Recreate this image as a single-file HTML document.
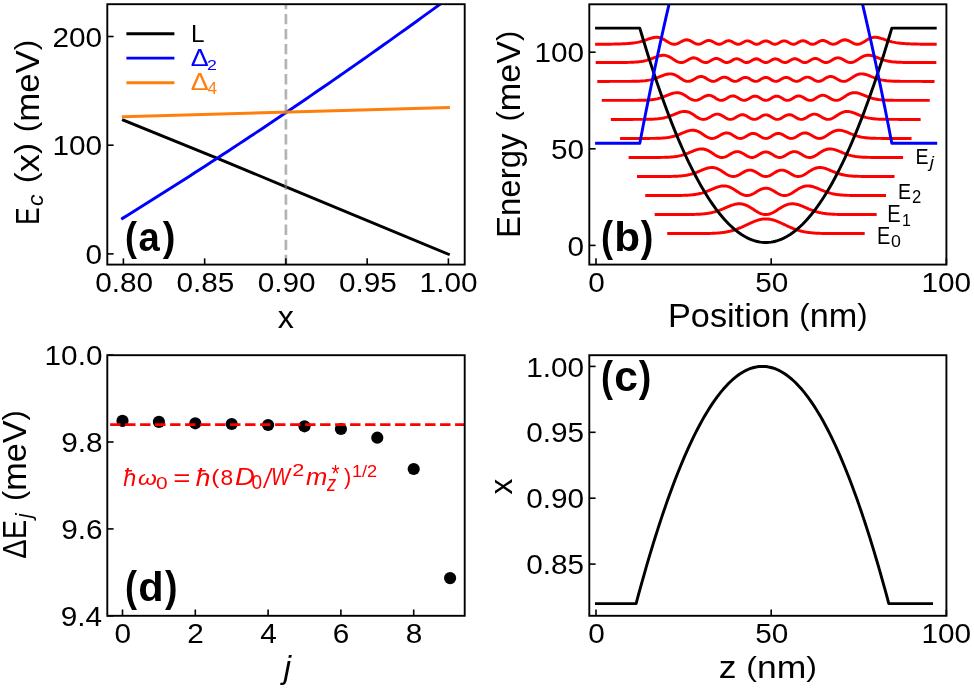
<!DOCTYPE html>
<html><head><meta charset="utf-8"><style>html,body{margin:0;padding:0;background:#fff;width:974px;height:688px;overflow:hidden}</style></head>
<body>
<svg width="974" height="688" viewBox="0 0 974 688" style="display:block;will-change:transform;font-family:'Liberation Sans',sans-serif">
<rect width="974" height="688" fill="#fff"/>
<clipPath id="ca"><rect x="107.3" y="4.2" width="357.4" height="260.4"/></clipPath>
<g clip-path="url(#ca)">
<path d="M123.40 120.20 L216.90 158.10 L286.00 186.80 L448.40 254.20" fill="none" stroke="#000" stroke-width="2.94" stroke-linejoin="round" stroke-linecap="square" />
<path d="M122.50 218.36 L128.05 214.92 L133.60 211.47 L139.15 208.01 L144.70 204.54 L150.25 201.06 L155.81 197.57 L161.36 194.07 L166.91 190.55 L172.46 187.03 L178.01 183.49 L183.56 179.95 L189.11 176.39 L194.66 172.82 L200.21 169.24 L205.76 165.65 L211.31 162.05 L216.86 158.44 L222.42 154.82 L227.97 151.19 L233.52 147.54 L239.07 143.89 L244.62 140.22 L250.17 136.55 L255.72 132.86 L261.27 129.16 L266.82 125.45 L272.37 121.73 L277.92 118.00 L283.47 114.26 L289.03 110.51 L294.58 106.74 L300.13 102.97 L305.68 99.18 L311.23 95.39 L316.78 91.58 L322.33 87.76 L327.88 83.93 L333.43 80.09 L338.98 76.24 L344.53 72.38 L350.08 68.51 L355.64 64.63 L361.19 60.73 L366.74 56.83 L372.29 52.91 L377.84 48.99 L383.39 45.05 L388.94 41.10 L394.49 37.14 L400.04 33.17 L405.59 29.19 L411.14 25.20 L416.69 21.20 L422.25 17.18 L427.80 13.16 L433.35 9.12 L438.90 5.08 L444.45 1.02 L450.00 -3.05" fill="none" stroke="#0000ff" stroke-width="2.94" stroke-linejoin="round" stroke-linecap="square" />
<path d="M123.40 116.70 L448.40 107.60" fill="none" stroke="#ff7f0e" stroke-width="2.94" stroke-linejoin="round" stroke-linecap="square" />
<path d="M285.9 -1.15 V270" stroke="#808080" stroke-opacity="0.6" stroke-width="2.7" stroke-dasharray="10.3 4.75"/>
</g>
<rect x="107.3" y="4.2" width="357.4" height="260.4" fill="none" stroke="#000" stroke-width="1.9"/>
<path d="M123.40 264.60 V258.30" stroke="#000" stroke-width="1.6"/>
<path d="M204.65 264.60 V258.30" stroke="#000" stroke-width="1.6"/>
<path d="M285.90 264.60 V258.30" stroke="#000" stroke-width="1.6"/>
<path d="M367.15 264.60 V258.30" stroke="#000" stroke-width="1.6"/>
<path d="M448.40 264.60 V258.30" stroke="#000" stroke-width="1.6"/>
<path d="M107.30 253.90 H113.60" stroke="#000" stroke-width="1.6"/>
<path d="M107.30 145.20 H113.60" stroke="#000" stroke-width="1.6"/>
<path d="M107.30 36.50 H113.60" stroke="#000" stroke-width="1.6"/>
<path d="M126.4 33.70 H174.4" stroke="#000" stroke-width="2.94"/>
<path d="M126.4 58.10 H174.4" stroke="#0000ff" stroke-width="2.94"/>
<path d="M126.4 82.80 H174.4" stroke="#ff7f0e" stroke-width="2.94"/>
<text transform="translate(191.01 41.9) scale(0.9997 1)" font-size="24.27" font-weight="normal" font-style="normal" fill="#000" stroke="#000" stroke-width="0">L</text>
<text transform="translate(190.7 65.6) scale(1.1046 1)" font-size="24.27" font-weight="normal" font-style="normal" fill="#0000ff" stroke="#0000ff" stroke-width="0">Δ</text>
<text transform="translate(206.91 69.8) scale(1.2053 1)" font-size="14.75" font-weight="normal" font-style="normal" fill="#0000ff" stroke="#0000ff" stroke-width="0">2</text>
<text transform="translate(190.7 90.3) scale(1.1046 1)" font-size="24.27" font-weight="normal" font-style="normal" fill="#ff7f0e" stroke="#ff7f0e" stroke-width="0">Δ</text>
<text transform="translate(207.4 94.4) scale(1.0240 1)" font-size="16.86" font-weight="normal" font-style="normal" fill="#ff7f0e" stroke="#ff7f0e" stroke-width="0">4</text>
<text transform="translate(95.14 291.73) scale(1.0642 1)" font-size="27.97" font-weight="normal" font-style="normal" fill="#000" stroke="#000" stroke-width="0">0.80</text>
<text transform="translate(176.43 291.73) scale(1.0642 1)" font-size="27.97" font-weight="normal" font-style="normal" fill="#000" stroke="#000" stroke-width="0">0.85</text>
<text transform="translate(257.64 291.73) scale(1.0642 1)" font-size="27.97" font-weight="normal" font-style="normal" fill="#000" stroke="#000" stroke-width="0">0.90</text>
<text transform="translate(338.93 291.73) scale(1.0642 1)" font-size="27.97" font-weight="normal" font-style="normal" fill="#000" stroke="#000" stroke-width="0">0.95</text>
<text transform="translate(419.59 291.73) scale(1.0642 1)" font-size="27.97" font-weight="normal" font-style="normal" fill="#000" stroke="#000" stroke-width="0">1.00</text>
<text transform="translate(85.51 264.03) scale(1.0642 1)" font-size="27.97" font-weight="normal" font-style="normal" fill="#000" stroke="#000" stroke-width="0">0</text>
<text transform="translate(52.41 155.33) scale(1.0642 1)" font-size="27.97" font-weight="normal" font-style="normal" fill="#000" stroke="#000" stroke-width="0">100</text>
<text transform="translate(52.41 46.63) scale(1.0642 1)" font-size="27.97" font-weight="normal" font-style="normal" fill="#000" stroke="#000" stroke-width="0">200</text>
<text transform="translate(277.84 327.5) scale(1.0315 1)" font-size="31.23" font-weight="normal" font-style="normal" fill="#000" stroke="#000" stroke-width="0">x</text>
<g transform="translate(38.5 222.8) rotate(-90)">
<text transform="translate(-2.18 0) scale(0.8088 1)" font-size="32.85" font-weight="normal" font-style="normal" fill="#000" stroke="#000" stroke-width="0">E</text>
<text transform="translate(16.85 4.29) scale(1.0678 1)" font-size="21.36" font-weight="normal" font-style="italic" fill="#000" stroke="#000" stroke-width="0">c</text>
<text transform="translate(39.56 0) scale(1.1080 1)" font-size="32.85" font-weight="normal" font-style="normal" fill="#000" stroke="#000" stroke-width="0"><tspan font-size="29.65" dy="-2.07">(</tspan><tspan font-size="32.85" dy="2.07">x</tspan><tspan font-size="29.65" dy="-2.07">)</tspan></text>
<text transform="translate(90.65 0) scale(1.0585 1)" font-size="32.85" font-weight="normal" font-style="normal" fill="#000" stroke="#000" stroke-width="0"><tspan font-size="29.65" dy="-2.07">(</tspan><tspan font-size="32.85" dy="2.07">m</tspan><tspan font-size="32.85" dy="0">e</tspan><tspan font-size="32.85" dy="0">V</tspan><tspan font-size="29.65" dy="-2.07">)</tspan></text>
</g>
<text transform="translate(125 251.02) scale(0.8842 1)" font-size="40.87" font-weight="bold" font-style="normal" fill="#000" stroke="#000" stroke-width="0">(</text>
<text transform="translate(138.38 251) scale(0.9357 1)" font-size="40.89" font-weight="bold" font-style="normal" fill="#000" stroke="#000" stroke-width="0">a</text>
<text transform="translate(162.86 251.02) scale(0.9275 1)" font-size="40.87" font-weight="bold" font-style="normal" fill="#000" stroke="#000" stroke-width="0">)</text>
<clipPath id="cb"><rect x="589.3" y="4.3" width="357.1" height="260.3"/></clipPath>
<g clip-path="url(#cb)">
<path d="M668.68 233.58 L669.37 233.58 L670.16 233.58 L670.85 233.58 L671.64 233.58 L672.33 233.58 L673.12 233.58 L673.92 233.58 L674.61 233.58 L675.40 233.58 L676.09 233.58 L676.88 233.58 L677.68 233.58 L678.36 233.58 L679.16 233.58 L679.85 233.58 L680.64 233.58 L681.44 233.58 L682.12 233.58 L682.92 233.58 L683.60 233.58 L684.40 233.58 L685.20 233.58 L685.88 233.58 L686.68 233.58 L687.36 233.58 L688.16 233.58 L688.96 233.58 L689.64 233.58 L690.44 233.58 L691.12 233.58 L691.92 233.58 L692.72 233.58 L693.40 233.58 L694.20 233.57 L694.88 233.57 L695.68 233.57 L696.48 233.57 L697.16 233.57 L697.96 233.56 L698.64 233.56 L699.44 233.56 L700.12 233.55 L700.92 233.55 L701.71 233.54 L702.40 233.54 L703.20 233.53 L703.88 233.52 L704.68 233.51 L705.47 233.50 L706.16 233.49 L706.95 233.48 L707.64 233.46 L708.44 233.45 L709.23 233.43 L709.92 233.41 L710.71 233.39 L711.40 233.37 L712.19 233.34 L712.99 233.30 L713.67 233.27 L714.47 233.24 L715.16 233.20 L715.95 233.15 L716.75 233.10 L717.43 233.05 L718.23 232.99 L718.91 232.94 L719.71 232.87 L720.51 232.79 L721.19 232.71 L721.99 232.62 L722.67 232.54 L723.47 232.43 L724.27 232.32 L724.95 232.21 L725.75 232.08 L726.43 231.96 L727.23 231.81 L727.91 231.67 L728.71 231.50 L729.51 231.32 L730.19 231.16 L730.99 230.96 L731.67 230.78 L732.47 230.55 L733.27 230.32 L733.95 230.11 L734.75 229.85 L735.43 229.62 L736.23 229.35 L737.03 229.06 L737.71 228.80 L738.51 228.49 L739.19 228.22 L739.99 227.89 L740.78 227.55 L741.47 227.26 L742.26 226.90 L742.95 226.60 L743.75 226.23 L744.54 225.86 L745.23 225.54 L746.02 225.17 L746.71 224.84 L747.50 224.47 L748.30 224.09 L748.99 223.77 L749.78 223.40 L750.47 223.08 L751.26 222.72 L752.06 222.37 L752.74 222.07 L753.54 221.74 L754.22 221.46 L755.02 221.15 L755.71 220.89 L756.50 220.61 L757.30 220.35 L757.98 220.14 L758.78 219.91 L759.46 219.73 L760.26 219.54 L761.06 219.38 L761.74 219.26 L762.54 219.14 L763.22 219.06 L764.02 218.98 L764.82 218.94 L765.50 218.92 L766.30 218.92 L766.98 218.95 L767.78 219.00 L768.58 219.08 L769.26 219.17 L770.06 219.29 L770.74 219.42 L771.54 219.59 L772.34 219.78 L773.02 219.96 L773.82 220.20 L774.50 220.41 L775.30 220.68 L776.09 220.97 L776.78 221.22 L777.58 221.54 L778.26 221.82 L779.06 222.16 L779.85 222.50 L780.54 222.81 L781.33 223.17 L782.02 223.49 L782.81 223.86 L783.50 224.18 L784.30 224.56 L785.09 224.94 L785.78 225.26 L786.57 225.64 L787.26 225.96 L788.05 226.32 L788.85 226.69 L789.54 226.99 L790.33 227.34 L791.02 227.64 L791.81 227.97 L792.61 228.30 L793.29 228.57 L794.09 228.88 L794.77 229.13 L795.57 229.42 L796.37 229.69 L797.05 229.92 L797.85 230.17 L798.53 230.38 L799.33 230.61 L800.13 230.83 L800.81 231.01 L801.61 231.21 L802.29 231.37 L803.09 231.55 L803.89 231.71 L804.57 231.85 L805.37 232.00 L806.05 232.11 L806.85 232.24 L807.65 232.36 L808.33 232.46 L809.13 232.56 L809.81 232.65 L810.61 232.74 L811.29 232.81 L812.09 232.88 L812.89 232.95 L813.57 233.01 L814.37 233.07 L815.05 233.12 L815.85 233.17 L816.64 233.21 L817.33 233.25 L818.13 233.28 L818.81 233.31 L819.61 233.34 L820.40 233.37 L821.09 233.39 L821.88 233.42 L822.57 233.43 L823.36 233.45 L824.16 233.47 L824.85 233.48 L825.64 233.49 L826.33 233.50 L827.12 233.51 L827.92 233.52 L828.60 233.53 L829.40 233.54 L830.09 233.54 L830.88 233.55 L831.68 233.55 L832.36 233.56 L833.16 233.56 L833.84 233.56 L834.64 233.57 L835.44 233.57 L836.12 233.57 L836.92 233.57 L837.60 233.58 L838.40 233.58 L839.08 233.58 L839.88 233.58 L840.68 233.58 L841.36 233.58 L842.16 233.58 L842.84 233.58 L843.64 233.58 L844.44 233.58 L845.12 233.58 L845.92 233.58 L846.60 233.58 L847.40 233.58 L848.20 233.58 L848.88 233.58 L849.68 233.58 L850.36 233.58 L851.16 233.58 L851.95 233.58 L852.64 233.58 L853.44 233.58 L854.12 233.58 L854.92 233.58 L855.71 233.58 L856.40 233.58 L857.19 233.58 L857.88 233.58 L858.68 233.58 L859.47 233.58 L860.16 233.58 L860.95 233.58 L861.64 233.58 L862.43 233.58 L863.23 233.58" fill="none" stroke="#ff0000" stroke-width="2.94" stroke-linejoin="round" stroke-linecap="square" />
<path d="M656.15 214.55 L656.95 214.55 L657.75 214.55 L658.66 214.55 L659.46 214.55 L660.37 214.55 L661.16 214.55 L661.96 214.55 L662.87 214.55 L663.67 214.55 L664.58 214.55 L665.38 214.55 L666.29 214.55 L667.09 214.55 L667.89 214.55 L668.80 214.55 L669.59 214.55 L670.50 214.55 L671.30 214.55 L672.21 214.55 L673.01 214.55 L673.81 214.55 L674.72 214.55 L675.52 214.55 L676.43 214.55 L677.23 214.55 L678.14 214.55 L678.93 214.55 L679.73 214.55 L680.64 214.54 L681.44 214.54 L682.35 214.54 L683.15 214.54 L684.06 214.53 L684.86 214.53 L685.65 214.53 L686.57 214.52 L687.36 214.51 L688.27 214.51 L689.07 214.50 L689.87 214.49 L690.78 214.48 L691.58 214.46 L692.49 214.45 L693.29 214.43 L694.20 214.41 L694.99 214.39 L695.79 214.36 L696.70 214.33 L697.50 214.30 L698.41 214.25 L699.21 214.21 L700.12 214.16 L700.92 214.11 L701.71 214.05 L702.63 213.98 L703.42 213.91 L704.33 213.82 L705.13 213.73 L706.04 213.62 L706.84 213.51 L707.64 213.40 L708.55 213.25 L709.35 213.12 L710.26 212.94 L711.05 212.78 L711.97 212.58 L712.76 212.39 L713.56 212.19 L714.47 211.95 L715.27 211.72 L716.18 211.44 L716.98 211.19 L717.89 210.88 L718.69 210.60 L719.48 210.30 L720.40 209.95 L721.19 209.64 L722.10 209.27 L722.90 208.93 L723.70 208.59 L724.61 208.20 L725.41 207.85 L726.32 207.45 L727.12 207.11 L728.03 206.72 L728.82 206.38 L729.62 206.05 L730.53 205.69 L731.33 205.39 L732.24 205.07 L733.04 204.82 L733.95 204.55 L734.75 204.34 L735.54 204.16 L736.46 203.99 L737.25 203.88 L738.16 203.80 L738.96 203.77 L739.87 203.78 L740.67 203.83 L741.47 203.92 L742.38 204.07 L743.18 204.25 L744.09 204.50 L744.88 204.77 L745.80 205.11 L746.59 205.46 L747.39 205.83 L748.30 206.30 L749.10 206.74 L750.01 207.27 L750.81 207.75 L751.60 208.25 L752.52 208.84 L753.31 209.35 L754.22 209.94 L755.02 210.45 L755.93 211.03 L756.73 211.51 L757.53 211.97 L758.44 212.47 L759.24 212.87 L760.15 213.28 L760.95 213.61 L761.86 213.92 L762.65 214.15 L763.45 214.33 L764.36 214.47 L765.16 214.54 L766.07 214.55 L766.87 214.51 L767.78 214.39 L768.58 214.24 L769.37 214.03 L770.29 213.74 L771.08 213.44 L771.99 213.04 L772.79 212.66 L773.70 212.18 L774.50 211.72 L775.30 211.25 L776.21 210.69 L777.01 210.18 L777.92 209.59 L778.71 209.08 L779.63 208.49 L780.42 207.98 L781.22 207.49 L782.13 206.95 L782.93 206.50 L783.84 206.02 L784.64 205.63 L785.43 205.27 L786.35 204.90 L787.14 204.62 L788.05 204.35 L788.85 204.15 L789.76 203.97 L790.56 203.86 L791.36 203.79 L792.27 203.76 L793.07 203.78 L793.98 203.84 L794.77 203.94 L795.69 204.09 L796.48 204.25 L797.28 204.45 L798.19 204.70 L798.99 204.95 L799.90 205.26 L800.70 205.55 L801.61 205.91 L802.41 206.23 L803.20 206.56 L804.12 206.95 L804.91 207.29 L805.82 207.69 L806.62 208.04 L807.53 208.43 L808.33 208.78 L809.13 209.11 L810.04 209.49 L810.84 209.81 L811.75 210.16 L812.54 210.46 L813.34 210.75 L814.25 211.06 L815.05 211.33 L815.96 211.61 L816.76 211.84 L817.67 212.10 L818.47 212.30 L819.26 212.50 L820.18 212.70 L820.97 212.87 L821.88 213.05 L822.68 213.19 L823.59 213.34 L824.39 213.46 L825.19 213.57 L826.10 213.69 L826.90 213.78 L827.81 213.87 L828.60 213.95 L829.52 214.02 L830.31 214.08 L831.11 214.14 L832.02 214.19 L832.82 214.24 L833.73 214.28 L834.53 214.31 L835.44 214.35 L836.24 214.37 L837.03 214.40 L837.94 214.42 L838.74 214.44 L839.65 214.46 L840.45 214.47 L841.36 214.48 L842.16 214.49 L842.96 214.50 L843.87 214.51 L844.67 214.52 L845.58 214.52 L846.37 214.53 L847.17 214.53 L848.08 214.54 L848.88 214.54 L849.79 214.54 L850.59 214.54 L851.50 214.55 L852.30 214.55 L853.09 214.55 L854.01 214.55 L854.80 214.55 L855.71 214.55 L856.51 214.55 L857.42 214.55 L858.22 214.55 L859.02 214.55 L859.93 214.55 L860.73 214.55 L861.64 214.55 L862.43 214.55 L863.35 214.55 L864.14 214.55 L864.94 214.55 L865.85 214.55 L866.65 214.55 L867.56 214.55 L868.36 214.55 L869.27 214.55 L870.07 214.55 L870.86 214.55 L871.77 214.55 L872.57 214.55 L873.48 214.55 L874.28 214.55 L875.19 214.55" fill="none" stroke="#ff0000" stroke-width="2.94" stroke-linejoin="round" stroke-linecap="square" />
<path d="M646.70 195.52 L647.61 195.52 L648.52 195.52 L649.43 195.52 L650.34 195.52 L651.25 195.52 L652.17 195.52 L653.08 195.52 L653.99 195.52 L654.90 195.52 L655.81 195.52 L656.72 195.52 L657.63 195.52 L658.54 195.52 L659.46 195.52 L660.37 195.52 L661.28 195.52 L662.30 195.52 L663.21 195.52 L664.13 195.52 L665.04 195.52 L665.95 195.52 L666.86 195.52 L667.77 195.52 L668.68 195.52 L669.59 195.52 L670.50 195.51 L671.42 195.51 L672.33 195.51 L673.24 195.50 L674.15 195.50 L675.06 195.49 L675.97 195.49 L677.00 195.48 L677.91 195.47 L678.82 195.46 L679.73 195.45 L680.64 195.43 L681.55 195.41 L682.46 195.39 L683.38 195.37 L684.29 195.34 L685.20 195.30 L686.11 195.27 L687.02 195.22 L687.93 195.17 L688.84 195.12 L689.75 195.05 L690.67 194.98 L691.69 194.88 L692.60 194.79 L693.51 194.68 L694.42 194.56 L695.34 194.43 L696.25 194.29 L697.16 194.13 L698.07 193.95 L698.98 193.76 L699.89 193.55 L700.80 193.32 L701.71 193.08 L702.63 192.81 L703.54 192.53 L704.45 192.23 L705.36 191.92 L706.38 191.55 L707.30 191.20 L708.21 190.84 L709.12 190.47 L710.03 190.09 L710.94 189.70 L711.85 189.31 L712.76 188.92 L713.67 188.54 L714.59 188.16 L715.50 187.80 L716.41 187.45 L717.32 187.13 L718.23 186.84 L719.14 186.57 L720.05 186.34 L721.08 186.14 L721.99 186.01 L722.90 185.92 L723.81 185.89 L724.72 185.92 L725.63 186.01 L726.55 186.15 L727.46 186.36 L728.37 186.63 L729.28 186.95 L730.19 187.33 L731.10 187.76 L732.01 188.24 L732.92 188.76 L733.84 189.31 L734.75 189.89 L735.66 190.49 L736.68 191.17 L737.59 191.77 L738.51 192.36 L739.42 192.92 L740.33 193.46 L741.24 193.94 L742.15 194.38 L743.06 194.76 L743.97 195.06 L744.88 195.29 L745.80 195.45 L746.71 195.52 L747.62 195.51 L748.53 195.41 L749.44 195.24 L750.35 194.98 L751.38 194.61 L752.29 194.21 L753.20 193.76 L754.11 193.26 L755.02 192.73 L755.93 192.18 L756.84 191.62 L757.76 191.07 L758.67 190.53 L759.58 190.03 L760.49 189.56 L761.40 189.15 L762.31 188.81 L763.22 188.53 L764.13 188.34 L765.05 188.22 L766.07 188.20 L766.98 188.26 L767.89 188.42 L768.80 188.65 L769.72 188.96 L770.63 189.34 L771.54 189.77 L772.45 190.26 L773.36 190.78 L774.27 191.33 L775.18 191.88 L776.09 192.44 L777.01 192.98 L777.92 193.50 L778.83 193.98 L779.74 194.41 L780.76 194.82 L781.68 195.11 L782.59 195.33 L783.50 195.47 L784.41 195.52 L785.32 195.50 L786.23 195.39 L787.14 195.20 L788.05 194.93 L788.97 194.59 L789.88 194.18 L790.79 193.72 L791.70 193.21 L792.61 192.66 L793.52 192.09 L794.43 191.49 L795.46 190.81 L796.37 190.21 L797.28 189.62 L798.19 189.05 L799.10 188.51 L800.01 188.01 L800.93 187.56 L801.84 187.15 L802.75 186.79 L803.66 186.50 L804.57 186.26 L805.48 186.08 L806.39 185.96 L807.30 185.90 L808.22 185.90 L809.13 185.96 L810.04 186.06 L811.06 186.24 L811.97 186.45 L812.89 186.69 L813.80 186.97 L814.71 187.28 L815.62 187.61 L816.53 187.97 L817.44 188.34 L818.35 188.72 L819.26 189.10 L820.18 189.49 L821.09 189.88 L822.00 190.27 L822.91 190.64 L823.82 191.01 L824.73 191.36 L825.76 191.75 L826.67 192.07 L827.58 192.38 L828.49 192.67 L829.40 192.94 L830.31 193.19 L831.22 193.43 L832.14 193.65 L833.05 193.85 L833.96 194.03 L834.87 194.20 L835.78 194.36 L836.69 194.49 L837.60 194.62 L838.51 194.73 L839.43 194.83 L840.45 194.93 L841.36 195.01 L842.27 195.08 L843.18 195.14 L844.10 195.20 L845.01 195.24 L845.92 195.28 L846.83 195.32 L847.74 195.35 L848.65 195.38 L849.56 195.40 L850.47 195.42 L851.39 195.44 L852.30 195.45 L853.21 195.46 L854.12 195.47 L855.14 195.48 L856.06 195.49 L856.97 195.50 L857.88 195.50 L858.79 195.51 L859.70 195.51 L860.61 195.51 L861.52 195.51 L862.43 195.52 L863.35 195.52 L864.26 195.52 L865.17 195.52 L866.08 195.52 L866.99 195.52 L867.90 195.52 L868.81 195.52 L869.84 195.52 L870.75 195.52 L871.66 195.52 L872.57 195.52 L873.48 195.52 L874.39 195.52 L875.31 195.52 L876.22 195.52 L877.13 195.52 L878.04 195.52 L878.95 195.52 L879.86 195.52 L880.77 195.52 L881.68 195.52 L882.60 195.52 L883.51 195.52 L884.53 195.52" fill="none" stroke="#ff0000" stroke-width="2.94" stroke-linejoin="round" stroke-linecap="square" />
<path d="M638.50 176.50 L639.41 176.50 L640.43 176.50 L641.35 176.50 L642.37 176.49 L643.40 176.49 L644.31 176.49 L645.33 176.49 L646.36 176.49 L647.27 176.49 L648.29 176.49 L649.20 176.49 L650.23 176.49 L651.25 176.49 L652.17 176.49 L653.19 176.49 L654.22 176.49 L655.13 176.49 L656.15 176.49 L657.06 176.49 L658.09 176.49 L659.11 176.49 L660.03 176.49 L661.05 176.48 L662.08 176.48 L662.99 176.48 L664.01 176.47 L664.92 176.47 L665.95 176.46 L666.97 176.46 L667.89 176.45 L668.91 176.44 L669.94 176.42 L670.85 176.41 L671.87 176.39 L672.90 176.36 L673.81 176.34 L674.83 176.30 L675.74 176.27 L676.77 176.22 L677.79 176.17 L678.71 176.11 L679.73 176.04 L680.76 175.96 L681.67 175.87 L682.69 175.76 L683.60 175.65 L684.63 175.52 L685.65 175.36 L686.57 175.20 L687.59 175.01 L688.62 174.79 L689.53 174.58 L690.55 174.32 L691.46 174.07 L692.49 173.77 L693.51 173.44 L694.42 173.13 L695.45 172.76 L696.48 172.38 L697.39 172.02 L698.41 171.60 L699.44 171.17 L700.35 170.79 L701.37 170.36 L702.28 169.98 L703.31 169.56 L704.33 169.16 L705.25 168.82 L706.27 168.48 L707.30 168.18 L708.21 167.95 L709.23 167.74 L710.14 167.61 L711.17 167.53 L712.19 167.52 L713.11 167.57 L714.13 167.71 L715.16 167.94 L716.07 168.20 L717.09 168.58 L718.00 168.97 L719.03 169.48 L720.05 170.06 L720.96 170.60 L721.99 171.26 L723.01 171.94 L723.93 172.55 L724.95 173.23 L725.98 173.88 L726.89 174.43 L727.91 175.00 L728.82 175.44 L729.85 175.85 L730.87 176.17 L731.79 176.37 L732.81 176.48 L733.84 176.48 L734.75 176.38 L735.77 176.16 L736.68 175.87 L737.71 175.46 L738.73 174.97 L739.64 174.48 L740.67 173.89 L741.70 173.27 L742.61 172.72 L743.63 172.12 L744.54 171.63 L745.57 171.13 L746.59 170.71 L747.50 170.43 L748.53 170.21 L749.55 170.12 L750.47 170.14 L751.49 170.28 L752.52 170.54 L753.43 170.87 L754.45 171.33 L755.36 171.81 L756.39 172.40 L757.41 173.03 L758.33 173.60 L759.35 174.24 L760.38 174.83 L761.29 175.31 L762.31 175.77 L763.22 176.09 L764.25 176.35 L765.27 176.48 L766.18 176.49 L767.21 176.37 L768.24 176.13 L769.15 175.82 L770.17 175.38 L771.08 174.91 L772.11 174.32 L773.13 173.69 L774.04 173.12 L775.07 172.49 L776.09 171.89 L777.01 171.40 L778.03 170.93 L778.94 170.59 L779.97 170.31 L780.99 170.15 L781.90 170.11 L782.93 170.19 L783.95 170.39 L784.87 170.66 L785.89 171.07 L786.92 171.55 L787.83 172.04 L788.85 172.64 L789.76 173.18 L790.79 173.80 L791.81 174.40 L792.72 174.90 L793.75 175.40 L794.77 175.82 L795.69 176.12 L796.71 176.35 L797.62 176.47 L798.65 176.49 L799.67 176.39 L800.58 176.21 L801.61 175.90 L802.63 175.50 L803.55 175.07 L804.57 174.51 L805.48 173.97 L806.51 173.32 L807.53 172.64 L808.44 172.03 L809.47 171.35 L810.49 170.69 L811.40 170.14 L812.43 169.56 L813.46 169.04 L814.37 168.64 L815.39 168.25 L816.30 167.97 L817.33 167.74 L818.35 167.59 L819.26 167.52 L820.29 167.52 L821.31 167.59 L822.23 167.72 L823.25 167.91 L824.16 168.14 L825.19 168.44 L826.21 168.77 L827.12 169.11 L828.15 169.50 L829.17 169.92 L830.09 170.30 L831.11 170.73 L832.02 171.11 L833.05 171.54 L834.07 171.96 L834.98 172.32 L836.01 172.71 L837.03 173.08 L837.94 173.40 L838.97 173.73 L839.99 174.03 L840.91 174.29 L841.93 174.55 L842.84 174.76 L843.87 174.98 L844.89 175.18 L845.80 175.34 L846.83 175.50 L847.85 175.64 L848.77 175.75 L849.79 175.86 L850.70 175.95 L851.73 176.03 L852.75 176.10 L853.66 176.16 L854.69 176.22 L855.71 176.26 L856.63 176.30 L857.65 176.33 L858.56 176.36 L859.59 176.38 L860.61 176.40 L861.52 176.42 L862.55 176.43 L863.57 176.45 L864.48 176.45 L865.51 176.46 L866.53 176.47 L867.45 176.47 L868.47 176.48 L869.38 176.48 L870.41 176.48 L871.43 176.49 L872.34 176.49 L873.37 176.49 L874.39 176.49 L875.31 176.49 L876.33 176.49 L877.24 176.49 L878.27 176.49 L879.29 176.49 L880.20 176.49 L881.23 176.49 L882.25 176.49 L883.16 176.49 L884.19 176.49 L885.10 176.49 L886.13 176.49 L887.15 176.49 L888.06 176.49 L889.09 176.49 L890.11 176.50 L891.02 176.50 L892.05 176.50 L893.07 176.50" fill="none" stroke="#ff0000" stroke-width="2.94" stroke-linejoin="round" stroke-linecap="square" />
<path d="M630.07 157.47 L631.09 157.47 L632.12 157.47 L633.14 157.47 L634.17 157.47 L635.31 157.47 L636.33 157.47 L637.36 157.47 L638.38 157.47 L639.41 157.46 L640.55 157.46 L641.57 157.46 L642.60 157.46 L643.62 157.46 L644.65 157.46 L645.79 157.46 L646.81 157.46 L647.84 157.46 L648.86 157.46 L649.89 157.46 L651.03 157.46 L652.05 157.46 L653.08 157.45 L654.10 157.45 L655.13 157.45 L656.27 157.44 L657.29 157.44 L658.32 157.43 L659.34 157.42 L660.37 157.41 L661.51 157.39 L662.53 157.38 L663.56 157.36 L664.58 157.33 L665.61 157.30 L666.75 157.26 L667.77 157.22 L668.80 157.17 L669.82 157.11 L670.85 157.03 L671.99 156.94 L673.01 156.85 L674.04 156.73 L675.06 156.61 L676.20 156.44 L677.23 156.28 L678.25 156.09 L679.28 155.88 L680.30 155.64 L681.44 155.36 L682.46 155.07 L683.49 154.76 L684.52 154.43 L685.54 154.08 L686.68 153.66 L687.70 153.26 L688.73 152.85 L689.75 152.42 L690.78 151.99 L691.92 151.52 L692.94 151.09 L693.97 150.69 L694.99 150.30 L696.02 149.94 L697.16 149.60 L698.18 149.33 L699.21 149.13 L700.23 148.99 L701.26 148.92 L702.40 148.94 L703.42 149.05 L704.45 149.24 L705.47 149.51 L706.50 149.87 L707.64 150.37 L708.66 150.89 L709.69 151.47 L710.71 152.10 L711.74 152.77 L712.88 153.54 L713.90 154.22 L714.93 154.89 L715.95 155.51 L716.98 156.08 L718.12 156.61 L719.14 157.00 L720.17 157.27 L721.19 157.43 L722.33 157.46 L723.36 157.35 L724.38 157.13 L725.41 156.79 L726.43 156.36 L727.57 155.78 L728.60 155.20 L729.62 154.59 L730.65 153.98 L731.67 153.38 L732.81 152.78 L733.84 152.32 L734.86 151.96 L735.89 151.72 L736.91 151.60 L738.05 151.63 L739.08 151.80 L740.10 152.10 L741.13 152.52 L742.15 153.03 L743.29 153.69 L744.32 154.33 L745.34 154.97 L746.37 155.60 L747.39 156.18 L748.53 156.72 L749.55 157.10 L750.58 157.35 L751.60 157.46 L752.63 157.43 L753.77 157.22 L754.79 156.89 L755.82 156.45 L756.84 155.92 L757.87 155.32 L759.01 154.61 L760.03 153.99 L761.06 153.40 L762.08 152.88 L763.11 152.46 L764.25 152.13 L765.27 151.98 L766.30 151.98 L767.32 152.13 L768.46 152.45 L769.49 152.87 L770.51 153.38 L771.54 153.97 L772.56 154.60 L773.70 155.30 L774.73 155.90 L775.75 156.44 L776.78 156.88 L777.80 157.21 L778.94 157.42 L779.97 157.46 L780.99 157.35 L782.02 157.11 L783.04 156.73 L784.18 156.19 L785.21 155.62 L786.23 154.99 L787.26 154.34 L788.28 153.71 L789.42 153.05 L790.45 152.53 L791.47 152.11 L792.50 151.81 L793.52 151.63 L794.66 151.60 L795.69 151.71 L796.71 151.95 L797.74 152.31 L798.76 152.77 L799.90 153.37 L800.93 153.96 L801.95 154.58 L802.98 155.19 L804.00 155.77 L805.14 156.35 L806.17 156.78 L807.19 157.12 L808.22 157.35 L809.24 157.46 L810.38 157.43 L811.40 157.28 L812.43 157.00 L813.46 156.62 L814.59 156.09 L815.62 155.53 L816.64 154.90 L817.67 154.24 L818.69 153.55 L819.83 152.79 L820.86 152.12 L821.88 151.49 L822.91 150.90 L823.93 150.38 L825.07 149.88 L826.10 149.52 L827.12 149.24 L828.15 149.05 L829.17 148.94 L830.31 148.92 L831.34 148.99 L832.36 149.12 L833.39 149.33 L834.41 149.59 L835.55 149.94 L836.58 150.29 L837.60 150.68 L838.63 151.08 L839.65 151.51 L840.79 151.98 L841.82 152.41 L842.84 152.84 L843.87 153.25 L844.89 153.65 L846.03 154.07 L847.06 154.42 L848.08 154.76 L849.11 155.07 L850.13 155.35 L851.27 155.64 L852.30 155.87 L853.32 156.08 L854.35 156.27 L855.37 156.44 L856.51 156.60 L857.54 156.73 L858.56 156.84 L859.59 156.94 L860.73 157.03 L861.75 157.10 L862.78 157.16 L863.80 157.22 L864.83 157.26 L865.97 157.30 L866.99 157.33 L868.02 157.36 L869.04 157.38 L870.07 157.39 L871.20 157.41 L872.23 157.42 L873.26 157.43 L874.28 157.44 L875.31 157.44 L876.44 157.45 L877.47 157.45 L878.49 157.45 L879.52 157.46 L880.55 157.46 L881.68 157.46 L882.71 157.46 L883.73 157.46 L884.76 157.46 L885.78 157.46 L886.92 157.46 L887.95 157.46 L888.97 157.46 L890.00 157.46 L891.02 157.46 L892.16 157.46 L893.19 157.46 L894.21 157.47 L895.24 157.47 L896.26 157.47 L897.40 157.47 L898.43 157.47 L899.45 157.47 L900.48 157.47 L901.62 157.47" fill="none" stroke="#ff0000" stroke-width="2.94" stroke-linejoin="round" stroke-linecap="square" />
<path d="M621.53 138.44 L622.55 138.44 L623.69 138.44 L624.83 138.44 L625.97 138.44 L626.99 138.44 L628.13 138.44 L629.27 138.44 L630.41 138.44 L631.55 138.44 L632.57 138.44 L633.71 138.44 L634.85 138.43 L635.99 138.43 L637.02 138.43 L638.16 138.43 L639.29 138.43 L640.43 138.43 L641.57 138.43 L642.60 138.43 L643.74 138.43 L644.88 138.43 L646.02 138.42 L647.04 138.42 L648.18 138.42 L649.32 138.41 L650.46 138.40 L651.60 138.39 L652.62 138.38 L653.76 138.37 L654.90 138.35 L656.04 138.32 L657.06 138.30 L658.20 138.26 L659.34 138.22 L660.48 138.17 L661.62 138.10 L662.65 138.04 L663.78 137.95 L664.92 137.84 L666.06 137.72 L667.09 137.59 L668.23 137.43 L669.37 137.24 L670.50 137.02 L671.64 136.78 L672.67 136.53 L673.81 136.23 L674.95 135.89 L676.09 135.53 L677.11 135.18 L678.25 134.76 L679.39 134.32 L680.53 133.86 L681.67 133.39 L682.69 132.96 L683.83 132.49 L684.97 132.03 L686.11 131.59 L687.25 131.20 L688.27 130.88 L689.41 130.59 L690.55 130.38 L691.69 130.25 L692.72 130.21 L693.86 130.27 L694.99 130.44 L696.13 130.72 L697.27 131.11 L698.30 131.55 L699.44 132.13 L700.58 132.78 L701.71 133.50 L702.74 134.18 L703.88 134.94 L705.02 135.70 L706.16 136.41 L707.30 137.05 L708.32 137.55 L709.46 137.99 L710.60 138.28 L711.74 138.42 L712.76 138.41 L713.90 138.25 L715.04 137.94 L716.18 137.49 L717.32 136.93 L718.34 136.36 L719.48 135.68 L720.62 135.00 L721.76 134.36 L722.79 133.85 L723.93 133.39 L725.07 133.06 L726.20 132.91 L727.34 132.93 L728.37 133.10 L729.51 133.45 L730.65 133.95 L731.79 134.57 L732.81 135.19 L733.95 135.91 L735.09 136.62 L736.23 137.26 L737.37 137.80 L738.39 138.15 L739.53 138.38 L740.67 138.43 L741.81 138.28 L742.95 137.95 L743.97 137.52 L745.11 136.92 L746.25 136.25 L747.39 135.55 L748.42 134.94 L749.55 134.34 L750.69 133.86 L751.83 133.54 L752.97 133.41 L754.00 133.46 L755.14 133.70 L756.28 134.12 L757.41 134.68 L758.44 135.27 L759.58 135.98 L760.72 136.68 L761.86 137.32 L763.00 137.85 L764.02 138.19 L765.16 138.40 L766.30 138.42 L767.44 138.23 L768.46 137.90 L769.60 137.39 L770.74 136.76 L771.88 136.06 L773.02 135.36 L774.04 134.76 L775.18 134.18 L776.32 133.74 L777.46 133.48 L778.49 133.41 L779.63 133.51 L780.76 133.81 L781.90 134.27 L783.04 134.86 L784.07 135.46 L785.21 136.16 L786.35 136.84 L787.48 137.45 L788.51 137.90 L789.65 138.25 L790.79 138.42 L791.93 138.40 L793.07 138.19 L794.09 137.85 L795.23 137.33 L796.37 136.70 L797.51 136.00 L798.65 135.28 L799.67 134.65 L800.81 134.02 L801.95 133.51 L803.09 133.14 L804.12 132.94 L805.25 132.90 L806.39 133.04 L807.53 133.34 L808.67 133.78 L809.70 134.29 L810.84 134.92 L811.97 135.60 L813.11 136.28 L814.14 136.85 L815.28 137.42 L816.42 137.89 L817.56 138.22 L818.69 138.40 L819.72 138.43 L820.86 138.31 L822.00 138.03 L823.14 137.61 L824.16 137.13 L825.30 136.50 L826.44 135.79 L827.58 135.04 L828.72 134.27 L829.74 133.59 L830.88 132.87 L832.02 132.20 L833.16 131.62 L834.19 131.17 L835.32 130.76 L836.46 130.47 L837.60 130.29 L838.74 130.22 L839.77 130.24 L840.91 130.36 L842.05 130.56 L843.18 130.84 L844.21 131.15 L845.35 131.54 L846.49 131.97 L847.63 132.43 L848.77 132.90 L849.79 133.33 L850.93 133.80 L852.07 134.26 L853.21 134.71 L854.35 135.13 L855.37 135.48 L856.51 135.85 L857.65 136.19 L858.79 136.49 L859.81 136.74 L860.95 136.99 L862.09 137.21 L863.23 137.40 L864.37 137.57 L865.40 137.70 L866.53 137.83 L867.67 137.94 L868.81 138.03 L869.84 138.10 L870.98 138.16 L872.12 138.21 L873.26 138.26 L874.39 138.29 L875.42 138.32 L876.56 138.35 L877.70 138.36 L878.84 138.38 L879.86 138.39 L881.00 138.40 L882.14 138.41 L883.28 138.42 L884.42 138.42 L885.44 138.42 L886.58 138.43 L887.72 138.43 L888.86 138.43 L889.89 138.43 L891.02 138.43 L892.16 138.43 L893.30 138.43 L894.44 138.43 L895.47 138.43 L896.61 138.43 L897.74 138.44 L898.88 138.44 L899.91 138.44 L901.05 138.44 L902.19 138.44 L903.33 138.44 L904.46 138.44 L905.49 138.44 L906.63 138.44 L907.77 138.44 L908.91 138.44 L910.05 138.44" fill="none" stroke="#ff0000" stroke-width="2.94" stroke-linejoin="round" stroke-linecap="square" />
<path d="M612.30 119.41 L613.44 119.41 L614.58 119.41 L615.83 119.41 L616.97 119.41 L618.22 119.41 L619.36 119.41 L620.50 119.41 L621.75 119.41 L622.89 119.41 L624.15 119.41 L625.28 119.41 L626.42 119.41 L627.68 119.41 L628.82 119.41 L630.07 119.41 L631.21 119.41 L632.35 119.41 L633.60 119.40 L634.74 119.40 L635.99 119.40 L637.13 119.40 L638.27 119.40 L639.52 119.39 L640.66 119.39 L641.91 119.38 L643.05 119.38 L644.19 119.37 L645.45 119.36 L646.58 119.34 L647.84 119.32 L648.98 119.30 L650.12 119.27 L651.37 119.23 L652.51 119.18 L653.76 119.12 L654.90 119.05 L656.04 118.97 L657.29 118.86 L658.43 118.74 L659.68 118.59 L660.82 118.42 L661.96 118.23 L663.21 117.99 L664.35 117.74 L665.61 117.43 L666.75 117.12 L667.89 116.77 L669.14 116.35 L670.28 115.94 L671.53 115.46 L672.67 115.01 L673.81 114.54 L675.06 114.02 L676.20 113.55 L677.45 113.05 L678.59 112.63 L679.73 112.25 L680.98 111.90 L682.12 111.66 L683.38 111.50 L684.52 111.44 L685.65 111.50 L686.91 111.69 L688.05 111.98 L689.30 112.43 L690.44 112.95 L691.58 113.57 L692.83 114.32 L693.97 115.07 L695.22 115.91 L696.36 116.67 L697.50 117.39 L698.75 118.10 L699.89 118.64 L701.15 119.08 L702.28 119.33 L703.42 119.41 L704.68 119.30 L705.82 119.04 L707.07 118.58 L708.21 118.04 L709.35 117.41 L710.60 116.66 L711.74 115.99 L712.99 115.31 L714.13 114.78 L715.27 114.39 L716.52 114.15 L717.66 114.12 L718.91 114.31 L720.05 114.67 L721.19 115.17 L722.45 115.87 L723.58 116.58 L724.84 117.37 L725.98 118.05 L727.12 118.63 L728.37 119.11 L729.51 119.35 L730.76 119.39 L731.90 119.22 L733.04 118.86 L734.29 118.28 L735.43 117.64 L736.68 116.87 L737.82 116.19 L738.96 115.58 L740.21 115.06 L741.35 114.77 L742.61 114.69 L743.75 114.83 L744.88 115.18 L746.14 115.75 L747.28 116.39 L748.53 117.17 L749.67 117.87 L750.81 118.49 L752.06 119.02 L753.20 119.32 L754.45 119.40 L755.59 119.25 L756.73 118.90 L757.98 118.32 L759.12 117.67 L760.38 116.89 L761.51 116.21 L762.65 115.61 L763.91 115.12 L765.05 114.87 L766.30 114.85 L767.44 115.05 L768.69 115.50 L769.83 116.07 L770.97 116.74 L772.22 117.51 L773.36 118.18 L774.61 118.80 L775.75 119.19 L776.89 119.39 L778.14 119.36 L779.28 119.11 L780.54 118.62 L781.68 118.02 L782.81 117.33 L784.07 116.55 L785.21 115.88 L786.46 115.28 L787.60 114.89 L788.74 114.70 L789.99 114.74 L791.13 114.98 L792.38 115.46 L793.52 116.05 L794.66 116.72 L795.91 117.48 L797.05 118.14 L798.31 118.75 L799.44 119.15 L800.58 119.37 L801.84 119.38 L802.98 119.18 L804.23 118.74 L805.37 118.19 L806.51 117.53 L807.76 116.74 L808.90 116.02 L810.15 115.31 L811.29 114.77 L812.43 114.37 L813.68 114.14 L814.82 114.13 L816.07 114.33 L817.21 114.68 L818.35 115.18 L819.61 115.84 L820.75 116.51 L822.00 117.26 L823.14 117.90 L824.28 118.47 L825.53 118.96 L826.67 119.26 L827.92 119.40 L829.06 119.36 L830.20 119.15 L831.45 118.74 L832.59 118.23 L833.84 117.55 L834.98 116.84 L836.12 116.08 L837.38 115.24 L838.51 114.49 L839.77 113.71 L840.91 113.08 L842.05 112.54 L843.30 112.06 L844.44 111.74 L845.69 111.53 L846.83 111.45 L847.97 111.47 L849.22 111.62 L850.36 111.84 L851.61 112.18 L852.75 112.54 L853.89 112.95 L855.14 113.44 L856.28 113.91 L857.54 114.43 L858.68 114.90 L859.81 115.36 L861.07 115.85 L862.21 116.26 L863.46 116.69 L864.60 117.04 L865.74 117.36 L866.99 117.68 L868.13 117.94 L869.38 118.18 L870.52 118.38 L871.66 118.55 L872.91 118.71 L874.05 118.83 L875.31 118.95 L876.44 119.03 L877.58 119.10 L878.84 119.17 L879.98 119.22 L881.23 119.26 L882.37 119.29 L883.51 119.32 L884.76 119.34 L885.90 119.35 L887.15 119.37 L888.29 119.38 L889.43 119.38 L890.68 119.39 L891.82 119.39 L893.07 119.40 L894.21 119.40 L895.35 119.40 L896.61 119.40 L897.74 119.40 L899.00 119.41 L900.14 119.41 L901.28 119.41 L902.53 119.41 L903.67 119.41 L904.92 119.41 L906.06 119.41 L907.20 119.41 L908.45 119.41 L909.59 119.41 L910.84 119.41 L911.98 119.41 L913.12 119.41 L914.37 119.41 L915.51 119.41 L916.77 119.41 L917.91 119.41 L919.16 119.41" fill="none" stroke="#ff0000" stroke-width="2.94" stroke-linejoin="round" stroke-linecap="square" />
<path d="M603.19 100.39 L604.44 100.39 L605.69 100.39 L606.95 100.39 L608.20 100.39 L609.45 100.39 L610.70 100.39 L611.96 100.39 L613.21 100.39 L614.46 100.39 L615.72 100.39 L616.97 100.39 L618.22 100.39 L619.48 100.39 L620.73 100.39 L621.98 100.39 L623.23 100.39 L624.49 100.39 L625.74 100.38 L626.99 100.38 L628.25 100.38 L629.50 100.38 L630.75 100.38 L632.01 100.37 L633.26 100.37 L634.51 100.37 L635.76 100.36 L637.02 100.35 L638.27 100.34 L639.52 100.32 L640.78 100.31 L642.03 100.28 L643.28 100.25 L644.53 100.21 L645.79 100.16 L647.04 100.10 L648.29 100.02 L649.55 99.93 L650.80 99.81 L652.05 99.68 L653.31 99.51 L654.56 99.32 L655.81 99.09 L657.06 98.83 L658.32 98.53 L659.57 98.19 L660.82 97.81 L662.08 97.39 L663.33 96.94 L664.58 96.46 L665.83 95.96 L667.09 95.44 L668.45 94.87 L669.71 94.37 L670.96 93.90 L672.21 93.47 L673.47 93.12 L674.72 92.85 L675.97 92.69 L677.23 92.64 L678.48 92.73 L679.73 92.96 L680.98 93.33 L682.24 93.84 L683.49 94.47 L684.74 95.20 L686.00 96.01 L687.25 96.85 L688.50 97.69 L689.75 98.48 L691.01 99.18 L692.26 99.75 L693.51 100.15 L694.77 100.36 L696.02 100.36 L697.27 100.16 L698.53 99.76 L699.78 99.20 L701.03 98.53 L702.28 97.79 L703.54 97.05 L704.79 96.37 L706.04 95.82 L707.30 95.45 L708.55 95.29 L709.80 95.36 L711.05 95.67 L712.31 96.18 L713.56 96.85 L714.81 97.62 L716.07 98.42 L717.32 99.16 L718.57 99.77 L719.83 100.19 L721.08 100.38 L722.33 100.31 L723.58 100.00 L724.84 99.47 L726.09 98.79 L727.34 98.03 L728.60 97.28 L729.85 96.63 L731.10 96.16 L732.36 95.92 L733.72 95.95 L734.97 96.26 L736.23 96.79 L737.48 97.49 L738.73 98.26 L739.99 99.03 L741.24 99.69 L742.49 100.15 L743.75 100.37 L745.00 100.32 L746.25 100.00 L747.50 99.45 L748.76 98.75 L750.01 97.98 L751.26 97.24 L752.52 96.63 L753.77 96.24 L755.02 96.10 L756.28 96.25 L757.53 96.65 L758.78 97.27 L760.03 98.01 L761.29 98.79 L762.54 99.49 L763.79 100.03 L765.05 100.34 L766.30 100.37 L767.55 100.12 L768.80 99.62 L770.06 98.94 L771.31 98.17 L772.56 97.41 L773.82 96.76 L775.07 96.31 L776.32 96.11 L777.58 96.19 L778.83 96.53 L780.08 97.10 L781.33 97.82 L782.59 98.59 L783.84 99.32 L785.09 99.91 L786.35 100.28 L787.60 100.39 L788.85 100.22 L790.10 99.80 L791.36 99.17 L792.61 98.42 L793.86 97.64 L795.12 96.92 L796.37 96.35 L797.62 95.99 L798.99 95.90 L800.24 96.09 L801.50 96.52 L802.75 97.14 L804.00 97.88 L805.25 98.64 L806.51 99.34 L807.76 99.91 L809.01 100.27 L810.27 100.39 L811.52 100.25 L812.77 99.87 L814.02 99.30 L815.28 98.57 L816.53 97.78 L817.78 97.00 L819.04 96.31 L820.29 95.76 L821.54 95.41 L822.80 95.29 L824.05 95.40 L825.30 95.73 L826.55 96.25 L827.81 96.90 L829.06 97.63 L830.31 98.38 L831.57 99.07 L832.82 99.66 L834.07 100.09 L835.32 100.34 L836.58 100.38 L837.83 100.21 L839.08 99.85 L840.34 99.31 L841.59 98.63 L842.84 97.86 L844.10 97.02 L845.35 96.18 L846.60 95.36 L847.85 94.61 L849.11 93.96 L850.36 93.43 L851.61 93.03 L852.87 92.77 L854.12 92.65 L855.37 92.67 L856.63 92.81 L857.88 93.06 L859.13 93.40 L860.38 93.81 L861.64 94.27 L862.89 94.77 L864.26 95.33 L865.51 95.85 L866.76 96.36 L868.02 96.85 L869.27 97.30 L870.52 97.73 L871.77 98.11 L873.03 98.46 L874.28 98.77 L875.53 99.04 L876.79 99.27 L878.04 99.47 L879.29 99.64 L880.55 99.79 L881.80 99.91 L883.05 100.00 L884.30 100.08 L885.56 100.15 L886.81 100.20 L888.06 100.24 L889.32 100.28 L890.57 100.30 L891.82 100.32 L893.07 100.34 L894.33 100.35 L895.58 100.36 L896.83 100.36 L898.09 100.37 L899.34 100.37 L900.59 100.38 L901.85 100.38 L903.10 100.38 L904.35 100.38 L905.60 100.38 L906.86 100.39 L908.11 100.39 L909.36 100.39 L910.62 100.39 L911.87 100.39 L913.12 100.39 L914.37 100.39 L915.63 100.39 L916.88 100.39 L918.13 100.39 L919.39 100.39 L920.64 100.39 L921.89 100.39 L923.15 100.39 L924.40 100.39 L925.65 100.39 L926.90 100.39 L928.27 100.39" fill="none" stroke="#ff0000" stroke-width="2.94" stroke-linejoin="round" stroke-linecap="square" />
<path d="M598.74 81.41 L600.00 81.41 L601.25 81.41 L602.50 81.41 L603.87 81.41 L605.12 81.41 L606.38 81.41 L607.74 81.41 L609.00 81.41 L610.25 81.40 L611.62 81.40 L612.87 81.40 L614.12 81.40 L615.49 81.40 L616.74 81.40 L617.99 81.40 L619.36 81.40 L620.61 81.40 L621.87 81.40 L623.23 81.39 L624.49 81.39 L625.74 81.38 L627.11 81.38 L628.36 81.37 L629.61 81.36 L630.98 81.35 L632.23 81.34 L633.49 81.32 L634.85 81.30 L636.11 81.27 L637.36 81.23 L638.73 81.19 L639.98 81.13 L641.23 81.06 L642.60 80.97 L643.85 80.86 L645.10 80.74 L646.47 80.57 L647.72 80.38 L648.98 80.17 L650.34 79.89 L651.60 79.60 L652.85 79.26 L654.22 78.85 L655.47 78.44 L656.72 77.99 L658.09 77.47 L659.34 76.96 L660.60 76.45 L661.96 75.89 L663.21 75.40 L664.47 74.94 L665.83 74.51 L667.09 74.19 L668.34 73.97 L669.71 73.86 L670.96 73.89 L672.21 74.07 L673.58 74.42 L674.83 74.89 L676.09 75.50 L677.45 76.28 L678.71 77.07 L679.96 77.91 L681.33 78.82 L682.58 79.61 L683.83 80.30 L685.20 80.89 L686.45 81.25 L687.70 81.40 L689.07 81.33 L690.32 81.04 L691.58 80.57 L692.94 79.89 L694.20 79.18 L695.45 78.43 L696.82 77.67 L698.07 77.09 L699.32 76.68 L700.69 76.48 L701.94 76.54 L703.20 76.85 L704.56 77.41 L705.82 78.10 L707.07 78.88 L708.44 79.74 L709.69 80.44 L710.94 80.99 L712.31 81.34 L713.56 81.39 L714.81 81.19 L716.18 80.69 L717.43 80.05 L718.69 79.30 L720.05 78.48 L721.31 77.83 L722.56 77.35 L723.93 77.11 L725.18 77.17 L726.43 77.50 L727.80 78.12 L729.05 78.84 L730.30 79.62 L731.67 80.42 L732.92 80.99 L734.18 81.33 L735.54 81.39 L736.80 81.14 L738.05 80.64 L739.42 79.89 L740.67 79.13 L741.92 78.40 L743.29 77.76 L744.54 77.42 L745.80 77.36 L747.16 77.62 L748.42 78.13 L749.67 78.82 L751.04 79.67 L752.29 80.40 L753.54 80.98 L754.91 81.35 L756.16 81.38 L757.41 81.12 L758.78 80.55 L760.03 79.85 L761.29 79.07 L762.65 78.29 L763.91 77.75 L765.16 77.45 L766.53 77.46 L767.78 77.78 L769.03 78.34 L770.40 79.13 L771.65 79.90 L772.91 80.59 L774.27 81.15 L775.52 81.39 L776.78 81.34 L778.14 80.95 L779.40 80.35 L780.65 79.61 L782.02 78.77 L783.27 78.09 L784.52 77.59 L785.89 77.35 L787.14 77.43 L788.40 77.80 L789.76 78.45 L791.02 79.18 L792.27 79.95 L793.64 80.68 L794.89 81.16 L796.14 81.39 L797.51 81.32 L798.76 80.96 L800.01 80.37 L801.38 79.57 L802.63 78.79 L803.89 78.07 L805.25 77.47 L806.51 77.15 L807.76 77.11 L809.13 77.38 L810.38 77.87 L811.63 78.53 L813.00 79.35 L814.25 80.09 L815.51 80.73 L816.87 81.21 L818.13 81.40 L819.38 81.33 L820.75 80.96 L822.00 80.40 L823.25 79.69 L824.62 78.83 L825.87 78.05 L827.12 77.37 L828.49 76.82 L829.74 76.53 L831.00 76.49 L832.36 76.70 L833.62 77.13 L834.87 77.72 L836.24 78.48 L837.49 79.23 L838.74 79.94 L840.11 80.61 L841.36 81.07 L842.61 81.34 L843.98 81.40 L845.23 81.23 L846.49 80.86 L847.85 80.25 L849.11 79.56 L850.36 78.77 L851.73 77.85 L852.98 77.02 L854.23 76.22 L855.60 75.45 L856.85 74.86 L858.11 74.39 L859.47 74.05 L860.73 73.88 L861.98 73.86 L863.35 73.98 L864.60 74.21 L865.85 74.53 L867.22 74.97 L868.47 75.43 L869.72 75.93 L871.09 76.49 L872.34 77.00 L873.60 77.50 L874.96 78.02 L876.22 78.47 L877.47 78.88 L878.84 79.29 L880.09 79.62 L881.34 79.91 L882.71 80.18 L883.96 80.40 L885.22 80.58 L886.58 80.75 L887.83 80.87 L889.09 80.98 L890.45 81.07 L891.71 81.14 L892.96 81.19 L894.33 81.24 L895.58 81.27 L896.83 81.30 L898.20 81.32 L899.45 81.34 L900.71 81.35 L902.07 81.36 L903.33 81.37 L904.58 81.38 L905.95 81.38 L907.20 81.39 L908.45 81.39 L909.82 81.40 L911.07 81.40 L912.32 81.40 L913.69 81.40 L914.94 81.40 L916.20 81.40 L917.56 81.40 L918.82 81.40 L920.07 81.40 L921.44 81.40 L922.69 81.41 L923.94 81.41 L925.31 81.41 L926.56 81.41 L927.82 81.41 L929.18 81.41 L930.44 81.41 L931.69 81.41 L933.06 81.41" fill="none" stroke="#ff0000" stroke-width="2.94" stroke-linejoin="round" stroke-linecap="square" />
<path d="M597.15 62.57 L598.40 62.57 L599.66 62.57 L601.02 62.57 L602.28 62.57 L603.64 62.57 L604.90 62.57 L606.26 62.56 L607.52 62.56 L608.88 62.56 L610.14 62.56 L611.39 62.56 L612.76 62.55 L614.01 62.55 L615.38 62.54 L616.63 62.54 L617.99 62.53 L619.25 62.52 L620.61 62.51 L621.87 62.50 L623.12 62.49 L624.49 62.47 L625.74 62.45 L627.11 62.43 L628.36 62.40 L629.73 62.36 L630.98 62.32 L632.35 62.27 L633.60 62.21 L634.85 62.14 L636.22 62.04 L637.47 61.94 L638.84 61.80 L640.09 61.66 L641.46 61.46 L642.71 61.25 L644.08 60.97 L645.33 60.69 L646.70 60.33 L647.95 59.96 L649.20 59.55 L650.57 59.07 L651.82 58.60 L653.19 58.06 L654.44 57.56 L655.81 57.02 L657.06 56.55 L658.43 56.09 L659.68 55.73 L660.94 55.46 L662.30 55.27 L663.56 55.23 L664.92 55.34 L666.18 55.59 L667.54 56.03 L668.80 56.57 L670.16 57.30 L671.42 58.06 L672.67 58.88 L674.04 59.79 L675.29 60.58 L676.66 61.36 L677.91 61.93 L679.28 62.37 L680.53 62.55 L681.90 62.51 L683.15 62.26 L684.52 61.76 L685.77 61.15 L687.02 60.45 L688.39 59.65 L689.64 58.97 L691.01 58.36 L692.26 57.98 L693.63 57.82 L694.88 57.93 L696.25 58.32 L697.50 58.89 L698.75 59.60 L700.12 60.45 L701.37 61.21 L702.74 61.91 L703.99 62.35 L705.36 62.56 L706.61 62.48 L707.98 62.09 L709.23 61.52 L710.49 60.82 L711.85 60.00 L713.11 59.32 L714.47 58.76 L715.73 58.48 L717.09 58.50 L718.34 58.81 L719.71 59.41 L720.96 60.12 L722.22 60.89 L723.58 61.67 L724.84 62.22 L726.20 62.54 L727.46 62.53 L728.82 62.19 L730.08 61.63 L731.44 60.85 L732.70 60.10 L734.06 59.38 L735.32 58.92 L736.57 58.72 L737.94 58.85 L739.19 59.27 L740.56 59.97 L741.81 60.72 L743.18 61.53 L744.43 62.13 L745.80 62.51 L747.05 62.55 L748.30 62.28 L749.67 61.70 L750.92 60.99 L752.29 60.17 L753.54 59.50 L754.91 59.00 L756.16 58.83 L757.53 59.00 L758.78 59.45 L760.03 60.11 L761.40 60.94 L762.65 61.66 L764.02 62.26 L765.27 62.54 L766.64 62.50 L767.89 62.15 L769.26 61.49 L770.51 60.75 L771.88 59.93 L773.13 59.32 L774.39 58.93 L775.75 58.84 L777.01 59.08 L778.37 59.65 L779.63 60.35 L780.99 61.18 L782.25 61.86 L783.61 62.38 L784.87 62.57 L786.12 62.45 L787.48 62.00 L788.74 61.36 L790.10 60.53 L791.36 59.79 L792.72 59.14 L793.98 58.79 L795.34 58.74 L796.60 59.01 L797.85 59.53 L799.22 60.29 L800.47 61.04 L801.84 61.79 L803.09 62.30 L804.46 62.56 L805.71 62.49 L807.08 62.10 L808.33 61.51 L809.70 60.70 L810.95 59.93 L812.20 59.25 L813.57 58.71 L814.82 58.47 L816.19 58.53 L817.44 58.86 L818.81 59.48 L820.06 60.19 L821.43 61.00 L822.68 61.68 L823.93 62.21 L825.30 62.53 L826.55 62.54 L827.92 62.26 L829.17 61.76 L830.54 61.03 L831.79 60.25 L833.16 59.41 L834.41 58.73 L835.67 58.21 L837.03 57.88 L838.29 57.84 L839.65 58.06 L840.91 58.48 L842.27 59.13 L843.53 59.83 L844.89 60.63 L846.15 61.32 L847.40 61.89 L848.77 62.34 L850.02 62.55 L851.39 62.53 L852.64 62.29 L854.01 61.80 L855.26 61.19 L856.63 60.39 L857.88 59.58 L859.24 58.67 L860.50 57.86 L861.75 57.12 L863.12 56.42 L864.37 55.91 L865.74 55.52 L866.99 55.30 L868.36 55.23 L869.61 55.30 L870.98 55.52 L872.23 55.82 L873.48 56.19 L874.85 56.67 L876.10 57.15 L877.47 57.69 L878.72 58.19 L880.09 58.72 L881.34 59.18 L882.71 59.66 L883.96 60.05 L885.22 60.41 L886.58 60.76 L887.83 61.04 L889.20 61.30 L890.45 61.51 L891.82 61.69 L893.07 61.84 L894.44 61.97 L895.69 62.07 L897.06 62.16 L898.31 62.22 L899.57 62.28 L900.93 62.33 L902.19 62.37 L903.55 62.41 L904.81 62.43 L906.17 62.46 L907.43 62.48 L908.79 62.49 L910.05 62.51 L911.30 62.52 L912.67 62.53 L913.92 62.53 L915.29 62.54 L916.54 62.55 L917.91 62.55 L919.16 62.55 L920.53 62.56 L921.78 62.56 L923.03 62.56 L924.40 62.56 L925.65 62.56 L927.02 62.57 L928.27 62.57 L929.64 62.57 L930.89 62.57 L932.26 62.57 L933.51 62.57 L934.88 62.57" fill="none" stroke="#ff0000" stroke-width="2.94" stroke-linejoin="round" stroke-linecap="square" />
<path d="M596.58 44.25 L597.83 44.25 L599.09 44.25 L600.45 44.24 L601.71 44.24 L603.07 44.23 L604.33 44.22 L605.69 44.21 L606.95 44.20 L608.31 44.19 L609.57 44.18 L610.93 44.16 L612.19 44.14 L613.55 44.12 L614.81 44.09 L616.17 44.06 L617.43 44.03 L618.79 43.99 L620.05 43.95 L621.41 43.89 L622.66 43.84 L624.03 43.77 L625.28 43.70 L626.65 43.62 L627.90 43.53 L629.16 43.43 L630.52 43.30 L631.78 43.17 L633.14 43.01 L634.40 42.84 L635.76 42.63 L637.02 42.42 L638.38 42.15 L639.64 41.87 L641.00 41.53 L642.26 41.18 L643.62 40.75 L644.88 40.34 L646.24 39.87 L647.50 39.42 L648.86 38.94 L650.12 38.51 L651.48 38.08 L652.74 37.75 L654.10 37.47 L655.36 37.31 L656.72 37.26 L657.98 37.34 L659.23 37.56 L660.60 37.95 L661.85 38.45 L663.21 39.12 L664.47 39.83 L665.83 40.68 L667.09 41.48 L668.45 42.31 L669.71 43.01 L671.07 43.62 L672.33 44.02 L673.69 44.23 L674.95 44.22 L676.31 43.97 L677.57 43.54 L678.93 42.92 L680.19 42.25 L681.55 41.49 L682.81 40.85 L684.17 40.28 L685.43 39.94 L686.79 39.82 L688.05 39.96 L689.30 40.32 L690.67 40.93 L691.92 41.63 L693.29 42.44 L694.54 43.14 L695.91 43.77 L697.16 44.13 L698.53 44.25 L699.78 44.09 L701.15 43.64 L702.40 43.04 L703.77 42.28 L705.02 41.58 L706.38 40.95 L707.64 40.56 L709.00 40.43 L710.26 40.60 L711.62 41.07 L712.88 41.70 L714.24 42.49 L715.50 43.20 L716.86 43.83 L718.12 44.17 L719.48 44.24 L720.74 43.99 L721.99 43.51 L723.36 42.79 L724.61 42.07 L725.98 41.37 L727.23 40.91 L728.60 40.71 L729.85 40.83 L731.22 41.28 L732.47 41.90 L733.84 42.69 L735.09 43.38 L736.46 43.96 L737.71 44.23 L739.08 44.18 L740.33 43.83 L741.70 43.20 L742.95 42.49 L744.32 41.73 L745.57 41.18 L746.93 40.86 L748.19 40.89 L749.55 41.25 L750.81 41.82 L752.06 42.53 L753.43 43.30 L754.68 43.87 L756.05 44.21 L757.30 44.21 L758.67 43.87 L759.92 43.30 L761.29 42.54 L762.54 41.83 L763.91 41.22 L765.16 40.92 L766.53 40.93 L767.78 41.25 L769.15 41.88 L770.40 42.59 L771.77 43.35 L773.02 43.90 L774.39 44.22 L775.64 44.20 L777.01 43.84 L778.26 43.26 L779.63 42.48 L780.88 41.78 L782.13 41.21 L783.50 40.87 L784.75 40.87 L786.12 41.21 L787.37 41.78 L788.74 42.54 L789.99 43.24 L791.36 43.87 L792.61 44.19 L793.98 44.22 L795.23 43.93 L796.60 43.34 L797.85 42.64 L799.22 41.85 L800.47 41.24 L801.84 40.81 L803.09 40.71 L804.46 40.93 L805.71 41.41 L807.08 42.12 L808.33 42.84 L809.70 43.55 L810.95 44.02 L812.20 44.24 L813.57 44.16 L814.82 43.80 L816.19 43.16 L817.44 42.44 L818.81 41.65 L820.06 41.03 L821.43 40.58 L822.68 40.43 L824.05 40.58 L825.30 40.98 L826.67 41.63 L827.92 42.33 L829.29 43.09 L830.54 43.68 L831.91 44.11 L833.16 44.25 L834.53 44.11 L835.78 43.73 L837.15 43.10 L838.40 42.39 L839.77 41.58 L841.02 40.89 L842.39 40.29 L843.64 39.94 L844.89 39.82 L846.26 39.96 L847.51 40.31 L848.88 40.89 L850.13 41.54 L851.50 42.30 L852.75 42.96 L854.12 43.58 L855.37 43.99 L856.74 44.23 L857.99 44.23 L859.36 44.00 L860.61 43.59 L861.98 42.96 L863.23 42.26 L864.60 41.42 L865.85 40.63 L867.22 39.78 L868.47 39.08 L869.84 38.41 L871.09 37.92 L872.46 37.54 L873.71 37.33 L874.96 37.26 L876.33 37.31 L877.58 37.48 L878.95 37.77 L880.20 38.11 L881.57 38.54 L882.82 38.96 L884.19 39.45 L885.44 39.90 L886.81 40.37 L888.06 40.78 L889.43 41.20 L890.68 41.55 L892.05 41.89 L893.30 42.17 L894.67 42.43 L895.92 42.65 L897.29 42.85 L898.54 43.02 L899.91 43.18 L901.16 43.31 L902.53 43.43 L903.78 43.53 L905.03 43.62 L906.40 43.71 L907.65 43.78 L909.02 43.84 L910.27 43.90 L911.64 43.95 L912.89 43.99 L914.26 44.03 L915.51 44.06 L916.88 44.09 L918.13 44.12 L919.50 44.14 L920.75 44.16 L922.12 44.18 L923.37 44.19 L924.74 44.20 L925.99 44.21 L927.36 44.22 L928.61 44.23 L929.98 44.24 L931.23 44.24 L932.60 44.25 L933.85 44.25 L935.22 44.25" fill="none" stroke="#ff0000" stroke-width="2.94" stroke-linejoin="round" stroke-linecap="square" />
<path d="M596.57 28.10 L639.80 28.10 L641.92 35.25 L644.04 42.27 L646.15 49.18 L648.27 55.96 L650.39 62.62 L652.51 69.16 L654.62 75.58 L656.74 81.88 L658.86 88.06 L660.98 94.11 L663.09 100.05 L665.21 105.86 L667.33 111.55 L669.45 117.12 L671.56 122.57 L673.68 127.90 L675.80 133.11 L677.92 138.20 L680.04 143.17 L682.15 148.01 L684.27 152.73 L686.39 157.34 L688.51 161.82 L690.62 166.18 L692.74 170.42 L694.86 174.54 L696.98 178.53 L699.09 182.41 L701.21 186.16 L703.33 189.80 L705.45 193.31 L707.56 196.70 L709.68 199.97 L711.80 203.12 L713.92 206.15 L716.04 209.06 L718.15 211.84 L720.27 214.51 L722.39 217.05 L724.51 219.47 L726.62 221.77 L728.74 223.95 L730.86 226.01 L732.98 227.95 L735.09 229.77 L737.21 231.46 L739.33 233.04 L741.45 234.49 L743.56 235.82 L745.68 237.03 L747.80 238.12 L749.92 239.09 L752.04 239.94 L754.15 240.67 L756.27 241.27 L758.39 241.76 L760.51 242.12 L762.62 242.36 L764.74 242.48 L766.86 242.48 L768.98 242.36 L771.09 242.12 L773.21 241.76 L775.33 241.27 L777.45 240.67 L779.56 239.94 L781.68 239.09 L783.80 238.12 L785.92 237.03 L788.04 235.82 L790.15 234.49 L792.27 233.04 L794.39 231.46 L796.51 229.77 L798.62 227.95 L800.74 226.01 L802.86 223.95 L804.98 221.77 L807.09 219.47 L809.21 217.05 L811.33 214.51 L813.45 211.84 L815.56 209.06 L817.68 206.15 L819.80 203.12 L821.92 199.97 L824.04 196.70 L826.15 193.31 L828.27 189.80 L830.39 186.16 L832.51 182.41 L834.62 178.53 L836.74 174.54 L838.86 170.42 L840.98 166.18 L843.09 161.82 L845.21 157.34 L847.33 152.73 L849.45 148.01 L851.56 143.17 L853.68 138.20 L855.80 133.11 L857.92 127.90 L860.04 122.57 L862.15 117.12 L864.27 111.55 L866.39 105.86 L868.51 100.05 L870.62 94.11 L872.74 88.06 L874.86 81.88 L876.98 75.58 L879.09 69.16 L881.21 62.62 L883.33 55.96 L885.45 49.18 L887.56 42.27 L889.68 35.25 L891.80 28.10 L935.23 28.10" fill="none" stroke="#000" stroke-width="2.94" stroke-linejoin="round" stroke-linecap="square" />
</g>
<g clip-path="url(#cb)">
<path d="M596.57 143.17 L639.80 143.17 L641.38 134.97 L642.97 126.83 L644.55 118.77 L646.14 110.78 L647.72 102.87 L649.31 95.03 L650.89 87.27 L652.48 79.59 L654.06 71.98 L655.65 64.46 L657.23 57.02 L658.82 49.66 L660.40 42.39 L661.99 35.20 L663.57 28.10 L665.16 21.08 L666.74 14.15 L668.33 7.31 L669.91 0.56 L671.50 -6.09 L673.08 -12.66 L674.67 -19.13 L676.25 -25.51 L677.84 -31.79 L679.42 -37.98 L681.01 -44.07 L682.59 -50.06 L684.18 -55.96 L685.76 -61.75 L687.35 -67.45 L688.93 -73.05 L690.52 -78.54 L692.10 -83.93 L693.69 -89.22 L695.27 -94.40 L696.86 -99.48 L698.44 -104.45 L700.03 -109.32 L701.61 -114.08 L703.20 -118.73 L704.78 -123.28 L706.37 -127.71 L707.95 -132.04 L709.54 -136.26 L711.12 -140.37 L712.71 -144.36 L714.29 -148.25 L715.88 -152.02 L717.46 -155.68 L719.05 -159.22 L720.63 -162.66 L722.22 -165.97 L723.80 -169.18 L725.38 -172.27 L726.97 -175.24 L728.55 -178.10 L730.14 -180.84 L731.72 -183.47 L733.31 -185.97 L734.89 -188.36 L736.48 -190.64 L738.06 -192.79 L739.65 -194.83 L741.23 -196.75 L742.82 -198.55 L744.40 -200.23 L745.99 -201.79 L747.57 -203.24 L749.16 -204.56 L750.74 -205.76 L752.33 -206.85 L753.91 -207.81 L755.50 -208.65 L757.08 -209.38 L758.67 -209.98 L760.25 -210.46 L761.84 -210.82 L763.42 -211.07 L765.01 -211.19 L766.59 -211.19 L768.18 -211.07 L769.76 -210.82 L771.35 -210.46 L772.93 -209.98 L774.52 -209.38 L776.10 -208.65 L777.69 -207.81 L779.27 -206.85 L780.86 -205.76 L782.44 -204.56 L784.03 -203.24 L785.61 -201.79 L787.20 -200.23 L788.78 -198.55 L790.37 -196.75 L791.95 -194.83 L793.54 -192.79 L795.12 -190.64 L796.71 -188.36 L798.29 -185.97 L799.88 -183.47 L801.46 -180.84 L803.05 -178.10 L804.63 -175.24 L806.22 -172.27 L807.80 -169.18 L809.38 -165.97 L810.97 -162.66 L812.55 -159.22 L814.14 -155.68 L815.72 -152.02 L817.31 -148.25 L818.89 -144.36 L820.48 -140.37 L822.06 -136.26 L823.65 -132.04 L825.23 -127.71 L826.82 -123.28 L828.40 -118.73 L829.99 -114.08 L831.57 -109.32 L833.16 -104.45 L834.74 -99.48 L836.33 -94.40 L837.91 -89.22 L839.50 -83.93 L841.08 -78.54 L842.67 -73.05 L844.25 -67.45 L845.84 -61.75 L847.42 -55.96 L849.01 -50.06 L850.59 -44.07 L852.18 -37.98 L853.76 -31.79 L855.35 -25.51 L856.93 -19.13 L858.52 -12.66 L860.10 -6.09 L861.69 0.56 L863.27 7.31 L864.86 14.15 L866.44 21.08 L868.03 28.10 L869.61 35.20 L871.20 42.39 L872.78 49.66 L874.37 57.02 L875.95 64.46 L877.54 71.98 L879.12 79.59 L880.71 87.27 L882.29 95.03 L883.88 102.87 L885.46 110.78 L887.05 118.77 L888.63 126.83 L890.22 134.97 L891.80 143.17 L935.73 143.17" fill="none" stroke="#0000ff" stroke-width="2.94" stroke-linejoin="round" stroke-linecap="square" />
</g>
<rect x="589.3" y="4.3" width="357.1" height="260.3" fill="none" stroke="#000" stroke-width="1.9"/>
<path d="M596.00 264.60 V258.30" stroke="#000" stroke-width="1.6"/>
<path d="M771.20 264.60 V258.30" stroke="#000" stroke-width="1.6"/>
<path d="M946.40 264.60 V258.30" stroke="#000" stroke-width="1.6"/>
<path d="M589.30 245.40 H595.60" stroke="#000" stroke-width="1.6"/>
<path d="M589.30 148.80 H595.60" stroke="#000" stroke-width="1.6"/>
<path d="M589.30 52.20 H595.60" stroke="#000" stroke-width="1.6"/>
<text transform="translate(588.22 291.73) scale(1.0642 1)" font-size="27.97" font-weight="normal" font-style="normal" fill="#000" stroke="#000" stroke-width="0">0</text>
<text transform="translate(567.51 255.53) scale(1.0642 1)" font-size="27.97" font-weight="normal" font-style="normal" fill="#000" stroke="#000" stroke-width="0">0</text>
<text transform="translate(755.13 291.73) scale(1.0642 1)" font-size="27.97" font-weight="normal" font-style="normal" fill="#000" stroke="#000" stroke-width="0">50</text>
<text transform="translate(550.96 158.93) scale(1.0642 1)" font-size="27.97" font-weight="normal" font-style="normal" fill="#000" stroke="#000" stroke-width="0">50</text>
<text transform="translate(921.52 291.73) scale(1.0642 1)" font-size="27.97" font-weight="normal" font-style="normal" fill="#000" stroke="#000" stroke-width="0">100</text>
<text transform="translate(534.41 62.33) scale(1.0642 1)" font-size="27.97" font-weight="normal" font-style="normal" fill="#000" stroke="#000" stroke-width="0">100</text>
<text transform="translate(667.99 327.4) scale(1.0567 1)" font-size="32.41" font-weight="normal" font-style="normal" fill="#000" stroke="#000" stroke-width="0"><tspan font-size="32.41" dy="0">P</tspan><tspan font-size="32.41" dy="0">o</tspan><tspan font-size="32.41" dy="0">s</tspan><tspan font-size="32.41" dy="0">i</tspan><tspan font-size="32.41" dy="0">t</tspan><tspan font-size="32.41" dy="0">i</tspan><tspan font-size="32.41" dy="0">o</tspan><tspan font-size="32.41" dy="0">n</tspan><tspan font-size="32.41" dy="0"> </tspan><tspan font-size="29.25" dy="-2.04">(</tspan><tspan font-size="32.41" dy="2.04">n</tspan><tspan font-size="32.41" dy="0">m</tspan><tspan font-size="29.25" dy="-2.04">)</tspan></text>
<g transform="translate(520 235.2) rotate(-90)">
<text transform="translate(-2.7 0) scale(1.0028 1)" font-size="32.85" font-weight="normal" font-style="normal" fill="#000" stroke="#000" stroke-width="0">Energy</text>
<text transform="translate(113.69 0) scale(1.0382 1)" font-size="32.85" font-weight="normal" font-style="normal" fill="#000" stroke="#000" stroke-width="0"><tspan font-size="29.65" dy="-2.07">(</tspan><tspan font-size="32.85" dy="2.07">m</tspan><tspan font-size="32.85" dy="0">e</tspan><tspan font-size="32.85" dy="0">V</tspan><tspan font-size="29.65" dy="-2.07">)</tspan></text>
</g>
<text transform="translate(600.9 251.3) scale(0.8616 1)" font-size="41.95" font-weight="bold" font-style="normal" fill="#000" stroke="#000" stroke-width="0">(</text>
<text transform="translate(614.21 251) scale(1.0347 1)" font-size="40.85" font-weight="bold" font-style="normal" fill="#000" stroke="#000" stroke-width="0">b</text>
<text transform="translate(640.86 251.3) scale(0.9038 1)" font-size="41.95" font-weight="bold" font-style="normal" fill="#000" stroke="#000" stroke-width="0">)</text>
<text transform="translate(877.07 243.5) scale(0.8309 1)" font-size="23.98" font-weight="normal" font-style="normal" fill="#000" stroke="#000" stroke-width="0">E</text>
<text transform="translate(891.01 247.03) scale(1.0319 1)" font-size="17.23" font-weight="normal" font-style="normal" fill="#000" stroke="#000" stroke-width="0">0</text>
<text transform="translate(887.35 221.8) scale(0.8648 1)" font-size="23.26" font-weight="normal" font-style="normal" fill="#000" stroke="#000" stroke-width="0">E</text>
<text transform="translate(901.88 225.8) scale(0.9492 1)" font-size="16.86" font-weight="normal" font-style="normal" fill="#000" stroke="#000" stroke-width="0">1</text>
<text transform="translate(898.1 198.8) scale(0.8625 1)" font-size="22.67" font-weight="normal" font-style="normal" fill="#000" stroke="#000" stroke-width="0">E</text>
<text transform="translate(912.06 202.5) scale(0.9548 1)" font-size="17.47" font-weight="normal" font-style="normal" fill="#000" stroke="#000" stroke-width="0">2</text>
<text transform="translate(915.4 164.4) scale(0.8516 1)" font-size="22.97" font-weight="normal" font-style="normal" fill="#000" stroke="#000" stroke-width="0">E</text>
<text transform="translate(929.67 167.62) scale(1.1339 1)" font-size="16.31" font-weight="normal" font-style="italic" fill="#000" stroke="#000" stroke-width="0">j</text>
<clipPath id="cc"><rect x="589.3" y="355.2" width="357.1" height="260.6"/></clipPath>
<g clip-path="url(#cc)">
<path d="M596.47 603.64 L636.10 603.64 L638.22 595.73 L640.35 587.96 L642.47 580.32 L644.59 572.81 L646.72 565.44 L648.84 558.21 L650.96 551.10 L653.09 544.13 L655.21 537.30 L657.34 530.60 L659.46 524.03 L661.58 517.60 L663.71 511.30 L665.83 505.13 L667.95 499.10 L670.08 493.20 L672.20 487.44 L674.32 481.81 L676.45 476.32 L678.57 470.96 L680.69 465.73 L682.82 460.64 L684.94 455.68 L687.06 450.85 L689.19 446.16 L691.31 441.60 L693.44 437.18 L695.56 432.89 L697.68 428.74 L699.81 424.72 L701.93 420.83 L704.05 417.08 L706.18 413.46 L708.30 409.97 L710.42 406.62 L712.55 403.41 L714.67 400.32 L716.79 397.38 L718.92 394.56 L721.04 391.88 L723.16 389.33 L725.29 386.92 L727.41 384.64 L729.54 382.50 L731.66 380.49 L733.78 378.61 L735.91 376.87 L738.03 375.26 L740.15 373.79 L742.28 372.45 L744.40 371.24 L746.52 370.17 L748.65 369.23 L750.77 368.43 L752.89 367.76 L755.02 367.22 L757.14 366.82 L759.26 366.55 L761.39 366.42 L763.51 366.42 L765.64 366.55 L767.76 366.82 L769.88 367.22 L772.01 367.76 L774.13 368.43 L776.25 369.23 L778.38 370.17 L780.50 371.24 L782.62 372.45 L784.75 373.79 L786.87 375.26 L788.99 376.87 L791.12 378.61 L793.24 380.49 L795.36 382.50 L797.49 384.64 L799.61 386.92 L801.74 389.33 L803.86 391.88 L805.98 394.56 L808.11 397.38 L810.23 400.32 L812.35 403.41 L814.48 406.62 L816.60 409.97 L818.72 413.46 L820.85 417.08 L822.97 420.83 L825.09 424.72 L827.22 428.74 L829.34 432.89 L831.46 437.18 L833.59 441.60 L835.71 446.16 L837.84 450.85 L839.96 455.68 L842.08 460.64 L844.21 465.73 L846.33 470.96 L848.45 476.32 L850.58 481.81 L852.70 487.44 L854.82 493.20 L856.95 499.10 L859.07 505.13 L861.19 511.30 L863.32 517.60 L865.44 524.03 L867.56 530.60 L869.69 537.30 L871.81 544.13 L873.94 551.10 L876.06 558.21 L878.18 565.44 L880.31 572.81 L882.43 580.32 L884.55 587.96 L886.68 595.73 L888.80 603.64 L931.53 603.64" fill="none" stroke="#000" stroke-width="2.94" stroke-linejoin="round" stroke-linecap="square" />
</g>
<rect x="589.3" y="355.2" width="357.1" height="260.6" fill="none" stroke="#000" stroke-width="1.9"/>
<path d="M596.00 615.80 V609.50" stroke="#000" stroke-width="1.6"/>
<path d="M771.20 615.80 V609.50" stroke="#000" stroke-width="1.6"/>
<path d="M946.40 615.80 V609.50" stroke="#000" stroke-width="1.6"/>
<path d="M589.30 564.10 H595.60" stroke="#000" stroke-width="1.6"/>
<path d="M589.30 498.20 H595.60" stroke="#000" stroke-width="1.6"/>
<path d="M589.30 432.30 H595.60" stroke="#000" stroke-width="1.6"/>
<path d="M589.30 366.40 H595.60" stroke="#000" stroke-width="1.6"/>
<text transform="translate(588.22 642.53) scale(1.0642 1)" font-size="27.97" font-weight="normal" font-style="normal" fill="#000" stroke="#000" stroke-width="0">0</text>
<text transform="translate(755.13 642.53) scale(1.0642 1)" font-size="27.97" font-weight="normal" font-style="normal" fill="#000" stroke="#000" stroke-width="0">50</text>
<text transform="translate(921.52 642.53) scale(1.0642 1)" font-size="27.97" font-weight="normal" font-style="normal" fill="#000" stroke="#000" stroke-width="0">100</text>
<text transform="translate(526.22 574.23) scale(1.0642 1)" font-size="27.97" font-weight="normal" font-style="normal" fill="#000" stroke="#000" stroke-width="0">0.85</text>
<text transform="translate(526.14 508.33) scale(1.0642 1)" font-size="27.97" font-weight="normal" font-style="normal" fill="#000" stroke="#000" stroke-width="0">0.90</text>
<text transform="translate(526.22 442.43) scale(1.0642 1)" font-size="27.97" font-weight="normal" font-style="normal" fill="#000" stroke="#000" stroke-width="0">0.95</text>
<text transform="translate(526.14 376.53) scale(1.0642 1)" font-size="27.97" font-weight="normal" font-style="normal" fill="#000" stroke="#000" stroke-width="0">1.00</text>
<text transform="translate(718.66 678.2) scale(1.1367 1)" font-size="31.25" font-weight="normal" font-style="normal" fill="#000" stroke="#000" stroke-width="0"><tspan font-size="31.25" dy="0">z</tspan><tspan font-size="31.25" dy="0"> </tspan><tspan font-size="28.2" dy="-1.97">(</tspan><tspan font-size="31.25" dy="1.97">n</tspan><tspan font-size="31.25" dy="0">m</tspan><tspan font-size="28.2" dy="-1.97">)</tspan></text>
<g transform="translate(512.1 494.1) rotate(-90)">
<text transform="translate(-0.35 0) scale(0.9875 1)" font-size="31.99" font-weight="normal" font-style="normal" fill="#000" stroke="#000" stroke-width="0">x</text>
</g>
<text transform="translate(600.9 391.06) scale(0.8486 1)" font-size="42.59" font-weight="bold" font-style="normal" fill="#000" stroke="#000" stroke-width="0">(</text>
<text transform="translate(614.33 391.28) scale(0.9983 1)" font-size="42.71" font-weight="bold" font-style="normal" fill="#000" stroke="#000" stroke-width="0">c</text>
<text transform="translate(638.86 391.06) scale(0.8818 1)" font-size="42.59" font-weight="bold" font-style="normal" fill="#000" stroke="#000" stroke-width="0">)</text>
<clipPath id="cd"><rect x="107.3" y="355.2" width="357.4" height="260.6"/></clipPath>
<g clip-path="url(#cd)">
<circle cx="122.50" cy="420.90" r="6.1" fill="#000"/>
<circle cx="158.90" cy="421.90" r="6.1" fill="#000"/>
<circle cx="195.30" cy="423.30" r="6.1" fill="#000"/>
<circle cx="231.70" cy="424.00" r="6.1" fill="#000"/>
<circle cx="268.10" cy="425.00" r="6.1" fill="#000"/>
<circle cx="304.50" cy="426.30" r="6.1" fill="#000"/>
<circle cx="340.90" cy="429.00" r="6.1" fill="#000"/>
<circle cx="377.30" cy="437.70" r="6.1" fill="#000"/>
<circle cx="413.70" cy="469.00" r="6.1" fill="#000"/>
<circle cx="450.10" cy="578.10" r="6.1" fill="#000"/>
<path d="M110.1 424.62 H470" stroke="#ff0000" stroke-width="2.94" stroke-dasharray="10.4 4.6"/>
</g>
<rect x="107.3" y="355.2" width="357.4" height="260.6" fill="none" stroke="#000" stroke-width="1.9"/>
<path d="M122.50 615.80 V609.50" stroke="#000" stroke-width="1.6"/>
<path d="M195.30 615.80 V609.50" stroke="#000" stroke-width="1.6"/>
<path d="M268.10 615.80 V609.50" stroke="#000" stroke-width="1.6"/>
<path d="M340.90 615.80 V609.50" stroke="#000" stroke-width="1.6"/>
<path d="M413.70 615.80 V609.50" stroke="#000" stroke-width="1.6"/>
<path d="M107.30 615.80 H113.60" stroke="#000" stroke-width="1.6"/>
<path d="M107.30 528.90 H113.60" stroke="#000" stroke-width="1.6"/>
<path d="M107.30 442.00 H113.60" stroke="#000" stroke-width="1.6"/>
<path d="M107.30 355.10 H113.60" stroke="#000" stroke-width="1.6"/>
<text transform="translate(114.52 642.53) scale(1.0642 1)" font-size="27.97" font-weight="normal" font-style="normal" fill="#000" stroke="#000" stroke-width="0">0</text>
<text transform="translate(187.32 642.53) scale(1.0642 1)" font-size="27.97" font-weight="normal" font-style="normal" fill="#000" stroke="#000" stroke-width="0">2</text>
<text transform="translate(260.22 642.53) scale(1.0642 1)" font-size="27.97" font-weight="normal" font-style="normal" fill="#000" stroke="#000" stroke-width="0">4</text>
<text transform="translate(332.82 642.53) scale(1.0642 1)" font-size="27.97" font-weight="normal" font-style="normal" fill="#000" stroke="#000" stroke-width="0">6</text>
<text transform="translate(405.72 642.53) scale(1.0642 1)" font-size="27.97" font-weight="normal" font-style="normal" fill="#000" stroke="#000" stroke-width="0">8</text>
<text transform="translate(60.8 625.93) scale(1.0642 1)" font-size="27.97" font-weight="normal" font-style="normal" fill="#000" stroke="#000" stroke-width="0">9.4</text>
<text transform="translate(61.23 539.03) scale(1.0642 1)" font-size="27.97" font-weight="normal" font-style="normal" fill="#000" stroke="#000" stroke-width="0">9.6</text>
<text transform="translate(61.22 452.13) scale(1.0642 1)" font-size="27.97" font-weight="normal" font-style="normal" fill="#000" stroke="#000" stroke-width="0">9.8</text>
<text transform="translate(44.54 365.23) scale(1.0642 1)" font-size="27.97" font-weight="normal" font-style="normal" fill="#000" stroke="#000" stroke-width="0">10.0</text>
<text transform="translate(283.87 678.11) scale(1.0646 1)" font-size="30.79" font-weight="normal" font-style="italic" fill="#000" stroke="#000" stroke-width="0">j</text>
<g transform="translate(25.9 557.9) rotate(-90)">
<text transform="translate(-0.87 0) scale(0.8851 1)" font-size="32.85" font-weight="normal" font-style="normal" fill="#000" stroke="#000" stroke-width="0">ΔE</text>
<text transform="translate(39.77 5.18) scale(1.0163 1)" font-size="21.78" font-weight="normal" font-style="italic" fill="#000" stroke="#000" stroke-width="0">j</text>
<text transform="translate(56.79 0) scale(1.0405 1)" font-size="32.85" font-weight="normal" font-style="normal" fill="#000" stroke="#000" stroke-width="0"><tspan font-size="29.65" dy="-2.07">(</tspan><tspan font-size="32.85" dy="2.07">m</tspan><tspan font-size="32.85" dy="0">e</tspan><tspan font-size="32.85" dy="0">V</tspan><tspan font-size="29.65" dy="-2.07">)</tspan></text>
</g>
<text transform="translate(125 601.3) scale(0.8616 1)" font-size="41.95" font-weight="bold" font-style="normal" fill="#000" stroke="#000" stroke-width="0">(</text>
<text transform="translate(138.3 601) scale(1.0153 1)" font-size="40.85" font-weight="bold" font-style="normal" fill="#000" stroke="#000" stroke-width="0">d</text>
<text transform="translate(164.96 601.3) scale(0.8954 1)" font-size="41.95" font-weight="bold" font-style="normal" fill="#000" stroke="#000" stroke-width="0">)</text>
<text transform="translate(123.21 485.5) scale(0.9835 1)" font-size="23.87" font-weight="normal" font-style="italic" fill="#ff0000" stroke="#ff0000" stroke-width="0">ħ</text>
<text transform="translate(137.91 485.3) scale(1.1964 1)" font-size="20.24" font-weight="normal" font-style="italic" fill="#ff0000" stroke="#ff0000" stroke-width="0">ω</text>
<text transform="translate(155.88 488.63) scale(1.2140 1)" font-size="17.23" font-weight="normal" font-style="normal" fill="#ff0000" stroke="#ff0000" stroke-width="0">0</text>
<text transform="translate(173.26 486.42) scale(1.2007 1)" font-size="24.51" font-weight="normal" font-style="normal" fill="#ff0000" stroke="#ff0000" stroke-width="0">=</text>
<text transform="translate(195.76 485.5) scale(1.1118 1)" font-size="23.87" font-weight="normal" font-style="italic" fill="#ff0000" stroke="#ff0000" stroke-width="0">ħ</text>
<text transform="translate(211.18 483.71) scale(1.1834 1)" font-size="20.72" font-weight="normal" font-style="normal" fill="#ff0000" stroke="#ff0000" stroke-width="0">(</text>
<text transform="translate(220.41 485.28) scale(1.0028 1)" font-size="22.74" font-weight="normal" font-style="normal" fill="#ff0000" stroke="#ff0000" stroke-width="0">8</text>
<text transform="translate(234.96 485.4) scale(1.1519 1)" font-size="23.84" font-weight="normal" font-style="italic" fill="#ff0000" stroke="#ff0000" stroke-width="0">D</text>
<text transform="translate(251.46 488.51) scale(0.9627 1)" font-size="19.77" font-weight="normal" font-style="normal" fill="#ff0000" stroke="#ff0000" stroke-width="0">0</text>
<text transform="translate(264.23 487.54) scale(0.8778 1)" font-size="26.83" font-weight="normal" font-style="italic" fill="#ff0000" stroke="#ff0000" stroke-width="0">/</text>
<text transform="translate(271.05 485.4) scale(0.8470 1)" font-size="23.84" font-weight="normal" font-style="italic" fill="#ff0000" stroke="#ff0000" stroke-width="0">W</text>
<text transform="translate(292.21 476.4) scale(1.3194 1)" font-size="16.47" font-weight="normal" font-style="normal" fill="#ff0000" stroke="#ff0000" stroke-width="0">2</text>
<text transform="translate(306.08 485.4) scale(1.1092 1)" font-size="23.07" font-weight="normal" font-style="italic" fill="#ff0000" stroke="#ff0000" stroke-width="0">m</text>
<text transform="translate(327.11 491.1) scale(0.8401 1)" font-size="21.77" font-weight="normal" font-style="italic" fill="#ff0000" stroke="#ff0000" stroke-width="0">z</text>
<text transform="translate(331.57 481.77) scale(0.8864 1)" font-size="23.36" font-weight="normal" font-style="normal" fill="#ff0000" stroke="#ff0000" stroke-width="0">*</text>
<text transform="translate(344.07 483.94) scale(0.9523 1)" font-size="22.97" font-weight="normal" font-style="normal" fill="#ff0000" stroke="#ff0000" stroke-width="0">)</text>
<text transform="translate(351.91 477.05) scale(1.1623 1)" font-size="15.66" font-weight="normal" font-style="normal" fill="#ff0000" stroke="#ff0000" stroke-width="0">1/2</text>
</svg>
</body></html>
